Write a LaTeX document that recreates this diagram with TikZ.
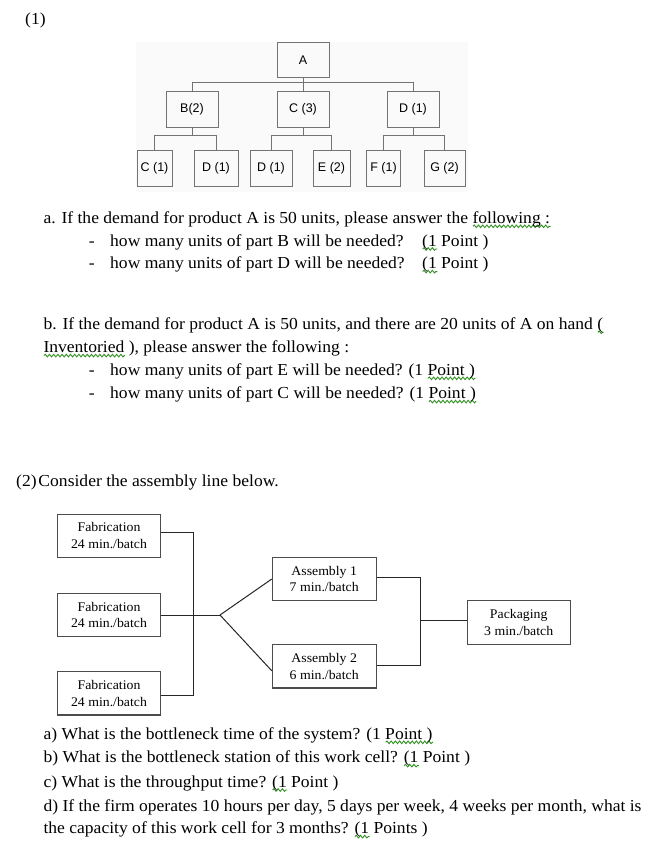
\documentclass[tikz,border=0pt]{standalone}
\usepackage{fontspec}
\setmainfont{Liberation Serif}[FakeStretch=1.045]
\newfontfamily\arialf{Liberation Sans}
\usetikzlibrary{calc,decorations.pathmorphing}
\definecolor{sqgreen}{RGB}{50,145,35}
\newsavebox\gwbox
\newlength\gwlen
\newcommand\gw[1]{\sbox\gwbox{#1}\setlength\gwlen{\wd\gwbox}\rlap{\tikz[baseline=0pt]\draw[sqgreen,line width=0.9pt,decorate,decoration={snake,amplitude=1.3pt,segment length=4.2pt}] (0pt,-2.8pt) -- (\gwlen,-2.8pt);}\usebox\gwbox}
\begin{document}
\begin{tikzpicture}[x=1pt,y=-1pt,
  txt/.style={anchor=base west,inner sep=0pt,font=\fontsize{16.8}{20}\selectfont},
  tbox/.style={draw=black!55,line width=0.8pt,inner sep=0pt,font=\arialf\fontsize{12.5}{14}\selectfont},
  tline/.style={draw=black!55,line width=0.8pt},
  abox/.style={draw=black!70,line width=1.1pt,align=center,inner sep=0pt,font=\fontsize{13.2}{16.7}\selectfont},
  aline/.style={draw=black!85,line width=1pt}]
\useasboundingbox (0,0) rectangle (658,864);
\fill[white] (0,0) rectangle (658,864);
% ---------- product tree ----------
\fill[black!2] (136,42) rectangle (468,192);
\node[tbox,minimum width=52pt,minimum height=34.5pt] (A) at (303,60) {A};
\node[tbox,minimum width=52pt,minimum height=36pt] (B) at (192,109) {B(2)};
\node[tbox,minimum width=52pt,minimum height=36pt] (C3) at (303,109) {C (3)};
\node[tbox,minimum width=52pt,minimum height=36pt] (Dm) at (413,109) {D (1)};
\node[tbox,minimum width=35pt,minimum height=36.5pt] (c1) at (154.5,168.5) {C (1)};
\node[tbox,minimum width=44pt,minimum height=36.5pt] (d1) at (216,168.5) {D (1)};
\node[tbox,minimum width=42pt,minimum height=36.5pt] (d2) at (271,168.5) {D (1)};
\node[tbox,minimum width=37pt,minimum height=36.5pt] (e2) at (331.5,168.5) {E (2)};
\node[tbox,minimum width=34pt,minimum height=36.5pt] (f1) at (383.5,168.5) {F (1)};
\node[tbox,minimum width=41pt,minimum height=36.5pt] (g2) at (444.5,168.5) {G (2)};
\draw[tline] (A.south) -- (C3.north);
\draw[tline] (B.north) -- ++(0,-8) -| (Dm.north);
\draw[tline] (B.south) -- ++(0,9);
\draw[tline] (c1.north) -- ++(0,-14) -| (d1.north);
\draw[tline] (C3.south) -- ++(0,9);
\draw[tline] (d2.north) -- ++(0,-14) -| (e2.north);
\draw[tline] (Dm.south) -- ++(0,9);
\draw[tline] (f1.north) -- ++(0,-14) -| (g2.north);
% ---------- texts part (1) ----------
\node[txt] (t1) at (25,25) {(1)};
\node[txt] (ta) at (43.3,223.5) {a. If the demand for product A is 50 units, please answer the \gw{following :}};
\node[txt] (da1) at (88.7,246.2) {-};
\node[txt] (qa1) at (110,246.2) {\makebox[312pt][l]{how many units of part B will be needed?}\gw{(1} Point )};
\node[txt] (da2) at (88.7,268.8) {-};
\node[txt] (qa2) at (110,268.8) {\makebox[312pt][l]{how many units of part D will be needed?}\gw{(1} Point )};
\node[txt] (tb) at (43.3,329.5) {b. If the demand for product A is 50 units, and there are 20 units of A on hand \gw{(}};
\node[txt] (tb2) at (43.3,352.8) {\gw{Inventoried} ), please answer the following :};
\node[txt] (db1) at (88.7,375.5) {-};
\node[txt] (qb1) at (110,375.5) {how many units of part E will be needed? (1 \gw{Point )}};
\node[txt] (db2) at (88.7,398.8) {-};
\node[txt] (qb2) at (110,398.8) {how many units of part C will be needed? (1 \gw{Point )}};
% ---------- part (2) ----------
\node[txt] (t2) at (16,486) {\makebox[22.3pt][l]{(2)}Consider the assembly line below.};
\node[abox,minimum width=103.4pt,minimum height=43.3pt] (fa) at (109,535.7) {Fabrication\\24 min./batch};
\node[abox,minimum width=103.4pt,minimum height=43.3pt] (fb) at (109,615) {Fabrication\\24 min./batch};
\node[abox,minimum width=103.4pt,minimum height=43.3pt] (fc) at (109,693.3) {Fabrication\\24 min./batch};
\node[abox,minimum width=103.7pt,minimum height=43.4pt] (a1) at (324.2,579) {Assembly 1\\7 min./batch};
\node[abox,minimum width=103.7pt,minimum height=43.4pt] (a2) at (324.2,666.3) {Assembly 2\\6 min./batch};
\node[abox,minimum width=103.3pt,minimum height=44.4pt] (pk) at (518.7,622.5) {Packaging\\3 min./batch};
\draw[aline] ([yshift=3.4pt]fa.east) -- ++(32,0) |- ([yshift=-2pt]fc.east);
\coordinate (br) at (220,615);
\draw[aline] (fb.east) -- (br);
\draw[aline] (br) -- (a1.west);
\draw[aline] (br) -- ([yshift=-4.5pt]a2.west);
\draw[aline] ([yshift=1.7pt]a1.east) -- ++(44,0) |- ([yshift=0.6pt]a2.east);
\coordinate (jn) at (420,620);
\draw[aline] (jn) -- (pk.west |- jn);
\node[txt] (qa) at (43.3,739.5) {a) What is the bottleneck time of the system? (1 \gw{Point )}};
\node[txt] (qb) at (43.3,762.8) {b) What is the bottleneck station of this work cell? \gw{(1} Point )};
\node[txt] (qc) at (43.3,787.2) {c) What is the throughput time? \gw{(1} Point )};
\node[txt] (qd) at (43.3,811.2) {d) If the firm operates 10 hours per day, 5 days per week, 4 weeks per month, what is};
\node[txt] (qe) at (43.3,833.8) {the capacity of this work cell for 3 months? \gw{(1} Points )};
\end{tikzpicture}
\end{document}
